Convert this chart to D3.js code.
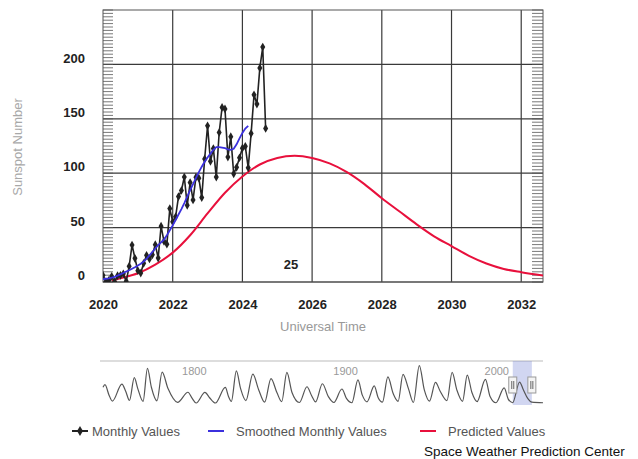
<!DOCTYPE html>
<html lang="en">
<head>
  <meta charset="utf-8">
  <title>solar cycle 25</title>
  <style>
  * { margin:0; padding:0; }
  body { background: white; }
  text { font-family: "Liberation Sans", Arial, sans-serif; }
  </style>
  <script src="https://d3js.org/d3.v7.min.js"></script>
</head>
<body>
  <script type="text/javascript">
    // monthly sunspot numbers, first value = Jan 2020
    var monthlyStart=2020;
    var monthlyValues=[6.2,0.2,1.5,5.2,0.2,5.8,6.1,7.5,0.6,14.4,34.0,21.8,
      10.4,8.2,17.2,24.5,21.2,25.0,34.3,22.0,51.3,37.4,34.8,67.5,
      55.3,59.9,78.5,84.1,96.5,70.5,91.4,75.4,96.3,95.4,77.6,113.1,
      143.6,110.9,122.6,96.4,137.4,160.5,159.1,114.8,133.6,99.4,105.4,114.2,
      123.0,124.7,104.9,136.5,172.0,163.5,196.8,216.0,141.1];
    // smoothed monthly values, same start
    var smoothedValues=[2.5,3.0,3.4,4.0,4.8,5.8,7.0,8.3,9.6,10.8,12.2,13.6,
      15.1,16.8,18.8,21.4,24.5,27.6,30.8,33.8,36.4,39.0,43.0,47.5,
      52.0,57.0,62.0,67.0,72.5,78.5,84.5,90.0,95.5,101.0,106.0,110.5,
      114.5,118.0,121.5,124.0,124.0,123.5,123.0,122.0,121.5,122.5,126.5,132.0,
      137.0,141.0,143.5];
    // predicted cycle 25
    var predYears=[2020.25,2020.5,2021,2021.5,2022,2022.5,2023,2023.5,2024,2024.5,2025,2025.5,
      2026,2026.5,2027,2027.5,2028,2028.5,2029,2029.5,2030,2030.5,2031,2031.5,2032,2032.625];
    var predValues=[1.5,3.5,8,16,27,43,63,82,97,108,114,116,
      114,109,101,90,77,65,53,42,33,24,17,12,9,6];

    var yTicks=[0,50,100,150,200];
    var xTicks=[2020,2022,2024,2026,2028,2030,2032];

    // long-term record for the navigator
    var navYears=[1749,1750.3,1753,1755.2,1761.5,1764,1766.5,1769.7,1772,1775.5,1778.4,1781,1784.7,1788.1,1792,
      1798.3,1805.2,1808,1810.6,1816.4,1819.5,1823.3,1829.9,1832,1833.9,1837.2,1840,1843.5,1848.1,1852,
      1855.9,1860.1,1864,1867.2,1870.6,1874,1878.9,1883.9,1887,1889.6,1894.1,1898,1901.7,1907.0,1910,
      1913.6,1917.6,1920.5,1923.6,1928.4,1931,1933.8,1937.4,1941,1944.2,1947.4,1951,1954.3,1958.2,1961.5,
      1964.9,1968.9,1972,1976.5,1979.9,1983,1986.8,1989.9,1993,1996.4,2001.9,2005,2008.9,2014.3,2017,
      2019.9,2024.5,2027,2030,2032.6,2040];
    var navValues=[120,140,60,14,144,90,19,193,110,12,264,120,16,235,110,
      5,82,35,0,81,40,0,119,50,12,245,110,18,220,100,
      6,186,80,10,234,80,4,124,55,8,147,50,4,107,35,
      2,176,60,9,130,40,6,199,70,13,219,110,5,285,100,
      14,157,90,18,233,100,13,213,80,11,180,50,2,116,30,
      2,160,101,33,6,2];
    var navTicks=[1800,1900,2000];

    var legendNames=["Monthly Values","Smoothed Monthly Values","Predicted Values"];
    var legendColours=["#222","#3b30dd","#e8103c"];

    var width=638, height=459;
    var svg=d3.select("body").append("svg")
      .attr('width',width)
      .attr('height',height);

    var x=d3.scaleLinear().domain([2020,2032.625]).range([103,543]);
    var y=d3.scaleLinear().domain([0,250]).range([282,10]);

    svg.append("clipPath").attr("id","plotClip")
      .append("rect").attr("x",103).attr("y",10).attr("width",440).attr("height",272);

    // grid
    svg.selectAll("line.hgrid").data(yTicks).join("line")
      .attr("class","hgrid")
      .attr("x1",x.range()[0]).attr("x2",x.range()[1])
      .attr("y1",function(d){return y(d);}).attr("y2",function(d){return y(d);})
      .style("stroke","#3a3a3a").style("stroke-width",1.2);
    svg.selectAll("line.vgrid").data(xTicks.slice(1)).join("line")
      .attr("class","vgrid")
      .attr("x1",function(d){return x(d);}).attr("x2",function(d){return x(d);})
      .attr("y1",y.range()[0]).attr("y2",y.range()[1])
      .style("stroke","#3a3a3a").style("stroke-width",1.2);

    // minor ticks on both sides
    var minorTicks=d3.range(0,250.01,3.125);
    svg.selectAll("line.minorL").data(minorTicks).join("line")
      .attr("class","minorL")
      .attr("x1",103).attr("x2",113)
      .attr("y1",function(d){return y(d);}).attr("y2",function(d){return y(d);})
      .style("stroke","#555").style("stroke-width",0.8);
    svg.selectAll("line.minorR").data(minorTicks).join("line")
      .attr("class","minorR")
      .attr("x1",532).attr("x2",543)
      .attr("y1",function(d){return y(d);}).attr("y2",function(d){return y(d);})
      .style("stroke","#555").style("stroke-width",0.8);

    svg.append("rect")
      .attr("x",103).attr("y",10).attr("width",440).attr("height",272)
      .style("fill","none").style("stroke","#555").style("stroke-width",1);

    // axes (labels only)
    var yAxis=svg.append("g")
      .attr("transform","translate(87,-6.5)")
      .call(d3.axisLeft(y).tickValues(yTicks).tickSize(0).tickPadding(2));
    var xAxis=svg.append("g")
      .attr("transform","translate(0,282)")
      .call(d3.axisBottom(x).tickValues(xTicks).tickFormat(d3.format("d")).tickSize(0).tickPadding(18));
    [yAxis,xAxis].forEach(function(g){
      g.select(".domain").remove();
      g.selectAll("text")
        .style("font-size","13px").style("font-weight","bold")
        .style("fill","#222").style("font-family","'Liberation Sans', Arial, sans-serif");
    });

    svg.append("text")
      .attr("transform","translate(22,147) rotate(-90)")
      .attr("text-anchor","middle")
      .style("font-size","13px").style("fill","#a8a8a8")
      .text("Sunspot Number");
    svg.append("text")
      .attr("x",323).attr("y",331)
      .attr("text-anchor","middle")
      .style("font-size","13px").style("fill","#999")
      .text("Universal Time");
    svg.append("text")
      .attr("x",291).attr("y",269)
      .attr("text-anchor","middle")
      .style("font-size","13px").style("font-weight","bold").style("fill","#222")
      .text("25");

    var plot=svg.append("g").attr("clip-path","url(#plotClip)");

    // predicted
    var predData=predYears.map(function(d,i){return {t:d, v:predValues[i]};});
    plot.append("path").datum(predData)
      .attr("d",d3.line().x(function(d){return x(d.t);}).y(function(d){return y(d.v);}).curve(d3.curveMonotoneX))
      .style("fill","none").style("stroke",legendColours[2]).style("stroke-width",2);

    // monthly
    var monthly=monthlyValues.map(function(v,i){return {t:monthlyStart+i/12, v:v};});
    plot.append("path").datum(monthly)
      .attr("d",d3.line().x(function(d){return x(d.t);}).y(function(d){return y(d.v);}))
      .style("fill","none").style("stroke",legendColours[0]).style("stroke-width",1.6);
    plot.selectAll("path.mark").data(monthly).join("path")
      .attr("class","mark")
      .attr("transform",function(d){return "translate("+x(d.t)+","+y(d.v)+")";})
      .attr("d",d3.symbol().type(d3.symbolDiamond).size(22))
      .style("fill","#222");

    // smoothed
    var smoothed=smoothedValues.map(function(v,i){return {t:monthlyStart+i/12, v:v};});
    plot.append("path").datum(smoothed)
      .attr("d",d3.line().x(function(d){return x(d.t);}).y(function(d){return y(d.v);}))
      .style("fill","none").style("stroke",legendColours[1]).style("stroke-width",1.8);

    // navigator
    var xNav=d3.scaleLinear().domain([1749,2040]).range([103,543]);
    var yNav=d3.scaleLinear().domain([0,290]).range([403,365]);
    svg.append("line")
      .attr("x1",100).attr("x2",543).attr("y1",361).attr("y2",361)
      .style("stroke","#bbb").style("stroke-width",1);
    svg.append("rect")
      .attr("x",xNav(2020)).attr("y",361)
      .attr("width",xNav(2032.625)-xNav(2020)).attr("height",44)
      .style("fill","rgba(102,120,210,0.3)");
    svg.selectAll("text.navTick").data(navTicks).join("text")
      .attr("class","navTick")
      .attr("x",function(d){return xNav(d)+2;}).attr("y",375)
      .style("font-size","11px").style("fill","#999")
      .text(function(d){return d;});
    var navData=navYears.map(function(d,i){return {t:d, v:navValues[i]};});
    svg.append("path").datum(navData)
      .attr("d",d3.line().x(function(d){return xNav(d.t);}).y(function(d){return yNav(d.v);}).curve(d3.curveMonotoneX))
      .style("fill","none").style("stroke","#555").style("stroke-width",1.2);
    [2020,2032.625].forEach(function(t){
      var hx=xNav(t);
      var h=svg.append("g").attr("transform","translate("+hx+",385)");
      h.append("rect").attr("x",-4).attr("y",-8).attr("width",8).attr("height",16)
        .style("fill","#f4f4f4").style("stroke","#999").style("stroke-width",1);
      h.append("line").attr("x1",-1).attr("x2",-1).attr("y1",-4).attr("y2",4).style("stroke","#666");
      h.append("line").attr("x1",1).attr("x2",1).attr("y1",-4).attr("y2",4).style("stroke","#666");
    });

    // legend
    var legendX=[72,208,420];
    legendNames.forEach(function(name,i){
      var g=svg.append("g").attr("transform","translate("+legendX[i]+",431)");
      g.append("line").attr("x1",0).attr("x2",16).attr("y1",0).attr("y2",0)
        .style("stroke",legendColours[i]).style("stroke-width",2);
      if (i==0) {
        g.append("path").attr("transform","translate(8,0)")
          .attr("d",d3.symbol().type(d3.symbolDiamond).size(30)).style("fill","#222");
      }
      g.append("text").attr("x",i==0?20:28).attr("y",5)
        .style("font-size","13px").style("fill","#555")
        .text(name);
    });
    svg.append("text")
      .attr("x",424).attr("y",456)
      .style("font-size","13.5px").style("fill","#111")
      .text("Space Weather Prediction Center");
  </script>
</body>
</html>
